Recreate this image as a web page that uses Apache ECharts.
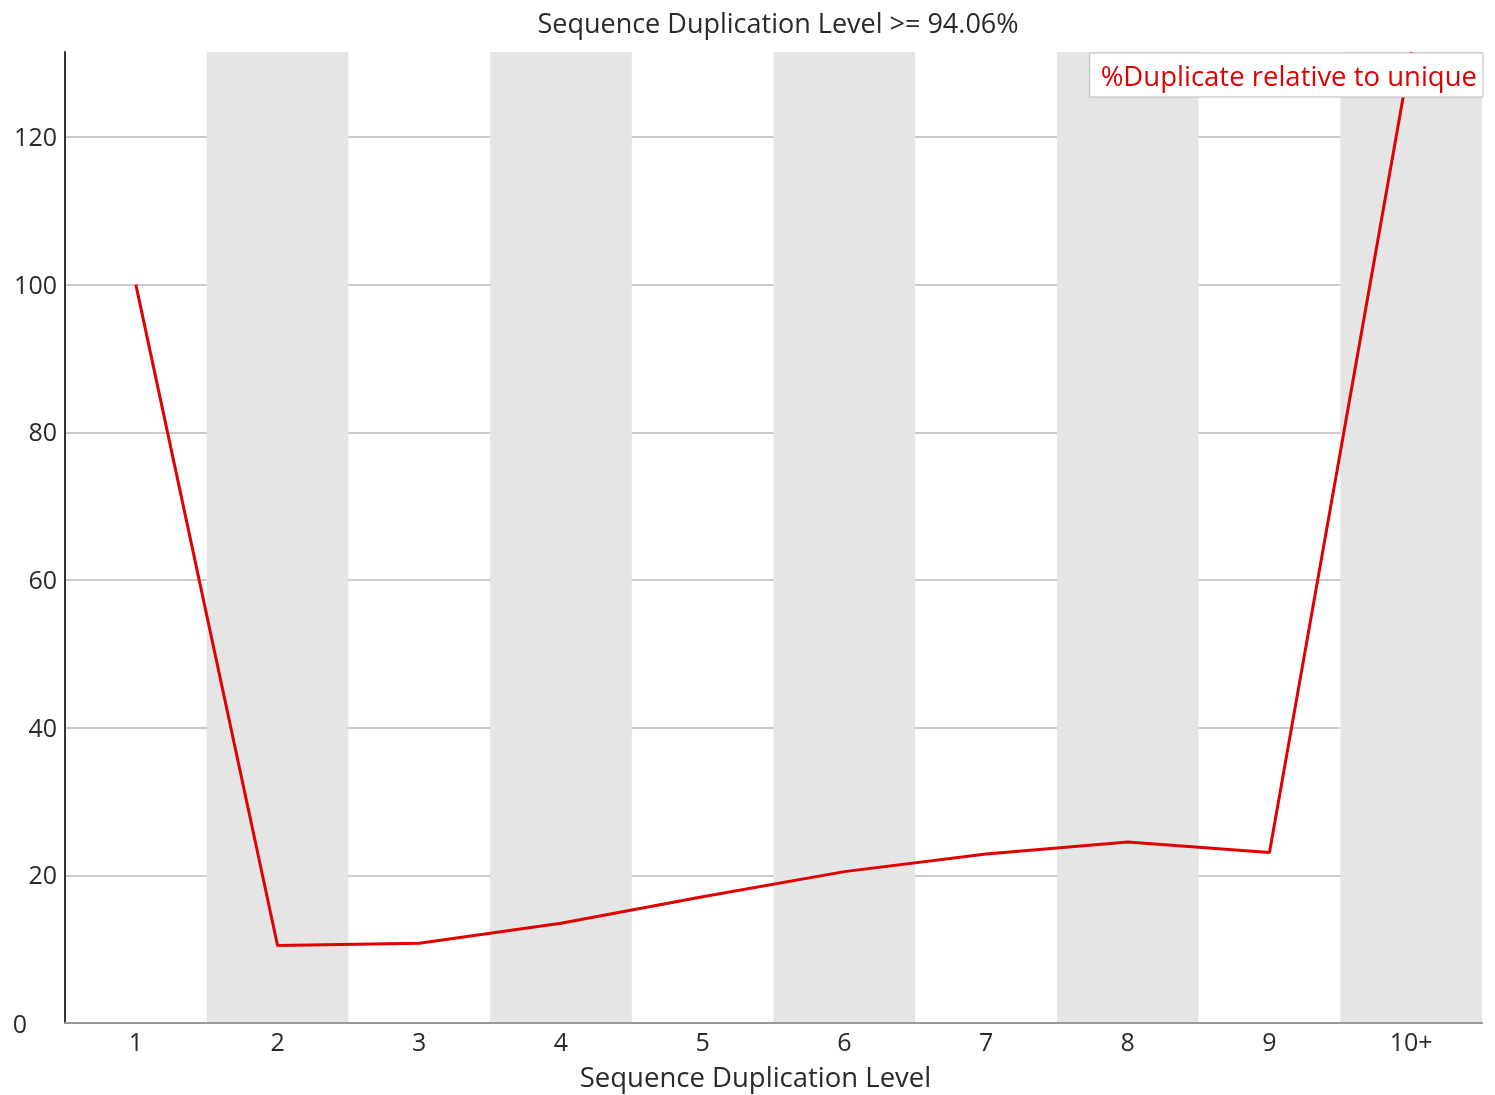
<!DOCTYPE html>
<html>
<head>
<meta charset="utf-8">
<script src="https://cdn.jsdelivr.net/npm/echarts@6/dist/echarts.min.js"></script>
<style>
  html, body { margin: 0; padding: 0; background: #ffffff; }
  #chart { width: 1495px; height: 1095px; }
</style>
</head>
<body>
<div id="chart"></div>
<script>
// Duplication levels and percentage of sequences relative to unique ones
const levels = ['1', '2', '3', '4', '5', '6', '7', '8', '9', '10+'];
const duplicateRelative = [100, 10.5, 10.8, 13.5, 17.1, 20.5, 22.9, 24.5, 23.1, 131.5];
const yTicks = [0, 20, 40, 60, 80, 100, 120];

const seriesName = '%Duplicate relative to unique';
const fontFamily = '"Open Sans", "DejaVu Sans", sans-serif';
const textColor = '#2a2a2a';

const chart = echarts.init(document.getElementById('chart'), null, { renderer: 'canvas' });

chart.setOption({
  animation: false,
  backgroundColor: '#ffffff',
  title: {
    text: 'Sequence Duplication Level >= 94.06%',
    left: 773,
    textAlign: 'center',
    top: 7,
    textStyle: { fontFamily, fontSize: 27, fontWeight: 'normal', color: textColor }
  },
  legend: {
    data: [seriesName],
    right: 12,
    top: 53,
    icon: 'none',
    itemWidth: 0,
    itemGap: 0,
    padding: [11, 6, 5, 6],
    backgroundColor: '#ffffff',
    borderColor: '#bbbbbb',
    borderWidth: 1,
    borderRadius: 0,
    textStyle: { fontFamily, fontSize: 27.5, color: '#e00000', padding: 0 }
  },
  grid: {
    left: 65, right: 13, top: 52, bottom: 72,
    containLabel: false,
    outerBoundsMode: 'none'
  },
  xAxis: {
    type: 'category',
    data: levels,
    boundaryGap: true,
    name: 'Sequence Duplication Level',
    nameLocation: 'middle',
    nameGap: 42,
    nameTextStyle: { fontFamily, fontSize: 27.5, color: textColor, padding: [0, 36, 0, 0] },
    axisLine: { show: true, lineStyle: { color: '#999999', width: 2 } },
    axisTick: { show: false },
    axisLabel: { fontFamily, fontSize: 25, color: textColor, margin: 8 },
    splitLine: { show: false },
    splitArea: { show: true, areaStyle: { color: ['rgba(255,255,255,0)', '#e5e5e5'] } }
  },
  yAxis: {
    type: 'value',
    min: 0,
    max: Math.max(...duplicateRelative),
    interval: yTicks[1] - yTicks[0],
    axisLine: { show: true, lineStyle: { color: '#333333', width: 2 } },
    axisTick: { show: false },
    axisLabel: {
      fontFamily, fontSize: 25, color: textColor, margin: 8,
      showMaxLabel: false,
      formatter: v => {
        if (yTicks.indexOf(v) < 0) return '';
        return v === 0 ? '{zero|0}' : '{v|' + v + '}';
      },
      rich: {
        v: { fontFamily, fontSize: 25, color: textColor, padding: [4, 0, 0, 0] },
        zero: { fontFamily, fontSize: 25, color: textColor, padding: [6, 30, 0, 0] }
      }
    },
    splitLine: { show: true, showMaxLine: false, lineStyle: { color: '#b8b8b8', width: 1.5 } }
  },
  series: [{
    name: seriesName,
    type: 'line',
    data: duplicateRelative,
    showSymbol: false,
    symbol: 'none',
    clip: false,
    lineStyle: { color: '#e00000', width: 3 },
    itemStyle: { color: '#e00000' },
    z: 3
  }]
});
</script>
</body>
</html>
